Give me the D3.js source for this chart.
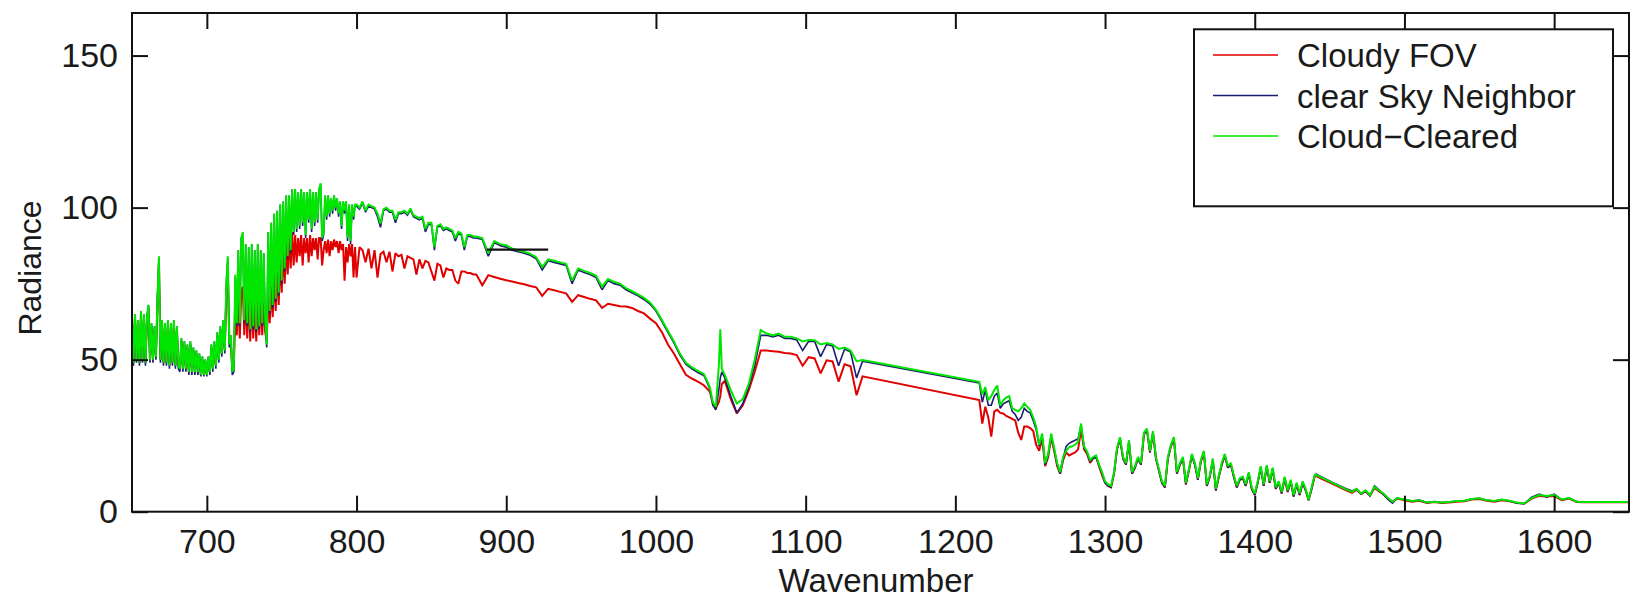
<!DOCTYPE html>
<html><head><meta charset="utf-8">
<script src="https://cdn.jsdelivr.net/npm/d3@7"></script>
<style>
html,body{margin:0;padding:0;background:#fff;}
svg{display:block;}
text{font-family:"Liberation Sans",Arial,Helvetica,sans-serif;fill:#1a1a1a;}
</style>
</head><body>
<svg id="chart" width="1631" height="600"></svg>
<script>
// ---------------- data ----------------
const wavenumber = [
 650,651,652,653,654,655,656,657,658,659,
 660,661,662,663,664,665,666,667,668,669,
 670,671,672,673,674,675,676,677,678,679,
 680,681,682,683,684,685,686,687,688,689,
 690,691,692,693,694,695,696,697,698,699,
 700,701,702,703,704,705,706,707,708,709,
 710,711,712,713,714,715,716,717,718,719,
 720,721,722,723,724,725,726,727,728,729,
 730,731,732,733,734,735,736,737,738,739,
 740,741,742,743,744,745,746,747,748,749,
 750,751,752,753,754,755,756,757,758,759,
 760,761,762,763,764,765,766,767,768,769,
 770,771,772,773,774,775,776,777,778,779,
 780,781,782,783,784,785,786,787,788,789,
 790,791,792,793,794,795,796,797,798,799,
 800,802,804,806,808,810,812,814,816,818,
 820,822,824,826,828,830,832,834,836,838,
 840,842,844,846,848,850,852,854,856,858,
 860,862,864,866,868,870,872,874,876,878,
 880,884,888,892,896,900,904,908,912,916,
 920,924,928,932,936,940,944,948,952,956,
 960,964,968,972,976,980,984,988,992,996,
 1000,1004,1008,1012,1016,1020,1024,1028,1032,1036,
 1038,1040,1042,1043,1044,1046,1050,1054,1058,1062,
 1066,1070,1074,1078,1082,1086,1090,1094,1098,1102,
 1106,1110,1114,1118,1122,1126,1130,1134,1138,1216,
 1218,1220,1222,1224,1226,1228,1230,1232,1234,1236,
 1238,1240,1242,1244,1246,1248,1250,1252,1254,1256,
 1258,1260,1262,1264,1266,1268,1270,1272,1274,1276,
 1278,1280,1282,1284,1286,1288,1290,1292,1294,1296,
 1298,1300,1302,1304,1306,1308,1310,1312,1314,1316,
 1318,1320,1322,1324,1326,1328,1330,1332,1334,1336,
 1338,1340,1342,1344,1346,1348,1350,1352,1354,1356,
 1358,1360,1362,1364,1366,1368,1370,1372,1374,1376,
 1378,1380,1382,1384,1386,1388,1390,1392,1394,1396,
 1398,1400,1402,1404,1406,1408,1410,1412,1414,1416,
 1418,1420,1422,1424,1426,1428,1430,1432,1434,1436,
 1438,1440,1441,1444,1452,1460,1465,1468,1471,1474,
 1477,1480,1483,1486,1489,1492,1495,1498,1500,1505,
 1510,1515,1520,1525,1530,1535,1540,1545,1550,1555,
 1560,1565,1570,1575,1580,1585,1590,1595,1600,1605,
 1610,1615,1620,1650
];

const cloudyFOV = [
 63,49,64,50,62,49,65,50,64,49,
 63,67,50,61,50,60,51,69,82,50,
 62,49,61,49,62,48,61,49,62,48,
 60,48,47,56,47,55,47,54,46,55,
 46,53,46,52,46,51,45,50,45,49,
 45,50,46,54,47,55,48,58,50,60,
 52,62,53,72,80,55,57,46,47,66,
 58,70,57,72,74,58,70,57,71,56,
 72,57,70,56,71,58,70,58,69,59,
 56,72,62,74,64,78,66,80,68,84,
 72,86,75,88,78,90,80,92,81,91,
 82,90,84,91,81,90,85,90,82,91,
 84,90,86,90,83,90,90,81,86,89,
 85,89.5,84,89,86,89.5,87,89,85,89,
 86,88,76,87,82,88,84,88,77,87,
 77,87,86,82,86.5,80,86,77,84.7,85.5,
 82,85.5,79,85,84,84.5,80,84,83.5,83,
 78,83,80,82.5,82,79,76,81.5,81,77,
 80,79.5,79.5,76,75,79,79,78.5,78.5,78,
 78,74.5,77.8,77.2,76.6,76.1,75.7,75.2,74.8,74.2,
 73.8,71,73.3,72.8,72.3,71.8,69,71.2,70.6,70,
 69.5,67,68.4,68,67.6,67.5,67,66,65.2,63.5,
 62,59,55,52,48.5,45,43.8,42.8,41.6,39.5,
 35.6,34,36,38,42,43,37,32.3,35,40,
 46,53,53,52.8,52.6,52.2,52,51.5,48,50.8,
 50.4,45.5,49.8,49.4,42.8,48.5,47.8,38.3,44.5,36.7,
 29,34.5,31,24.7,33,33.5,32.5,32.3,31.5,31,
 30.5,30,26,23.6,28,28,27.5,26.5,22,20,
 24,15,18,24.5,20,15,12.5,17,19.5,18.5,
 19,19.5,20.5,27,20.5,19,16,17.5,18,15,
 12,9.5,8.5,8,12.5,20.5,24,17.5,15.5,23,
 12.5,14.5,17.5,15.5,25.5,26.8,19.5,26,17.5,13.5,
 9.5,8,17.5,21.5,24,12.5,15.5,17.5,9,13.5,
 18.5,15.5,10.5,16.5,19.5,8.5,11.5,17,7,11.5,
 15.5,18.5,14.5,15.5,11.5,8,10.5,11,8.5,12.5,
 7.5,5.5,9.5,14.5,8.5,14.8,9.5,14,7.5,9.5,
 6,11,6.5,10,5,9,5.5,9.5,7,3.8,
 7.5,11.5,11.8,11,9.2,7.3,6.2,7.2,5.8,6.7,
 5.3,7.8,6.7,5.8,4.3,3.2,4.3,4,3.8,3.3,
 3.6,2.9,3.2,2.9,3,3.3,3.4,4,4.2,3.6,
 3.3,3.8,3.4,2.9,2.6,4.3,5.2,5,5.2,3.8,
 4.3,3.2,3.1,3.1
];

const clearSkyNeighbor = [
 63,48,65,49,63,48,66,49,65,48,
 64,68,49,62,49,61,50,70,83,49,
 63,48,62,48,63,47,62,48,63,47,
 61,47,46,57,46,56,46,55,45,56,
 45,54,45,53,45,52,44.5,51,44.5,50,
 44.5,51,45,55,46,56,47,59,49,61,
 51,63,52,75,83,54,58,45,46,77,
 61,86,61,90,91,62,88,61,87,59,
 88,60,86,59,88,60,86,61,85,62,
 54,92,65,95,67,98,69,99,71,101,
 75,102,79,104,83,104,85,106,91,106,
 92,105,93,106,94,105,90,105,95,106,
 92,105,94,105,95,106,107.5,89,91,104,
 96,104,97,103,98,104,99,103,97,102,
 93,102,98,102,89,101,88,101,96,101,
 100.5,99.5,101.5,98.5,100.5,100,99.5,97,93.5,99,
 99.5,98.5,98.5,95,98,98,98.5,97.5,99.2,97,
 96.5,96,96.5,92,94.5,94.5,86,93.5,94,92.5,
 93,92.5,92,89,91.5,91,86,90.5,90.5,90,
 90,89.5,84,88.5,87.5,87,86,85.5,85,84.3,
 83.2,79.5,82.5,82,81.5,81,75,79.5,78.7,78,
 77,73,76,75,74.5,73,72,71,69.8,68.3,
 66,62.5,59,55.5,51.5,48.5,47,45.8,44.8,40.5,
 35,33.5,40,44,46,44,38,32.5,35.5,41,
 48,58,58,57.5,58,57,57,56.5,53,56,
 56,51,55,54.5,48,53.5,52.5,44,49.5,42.3,
 36,40,35,35,38,39,34,35.5,36,36.5,
 33,32,30,31,34,33,32.5,30,27,21.5,
 25,15.5,18.5,25,20.5,15.5,12.5,17.5,21.5,22.5,
 23,23.5,24,28.5,21,19.5,16.5,17.5,18,15,
 12.5,9.5,8.5,8,12.5,20.5,24,17.5,15.5,23,
 12.5,14.5,17.5,15.5,25.5,27,19.5,26,17.5,13.5,
 9.5,8,17.5,21.5,24,12.5,15.5,17.5,9,13.5,
 18.5,15.5,10.5,16.5,19.5,8.5,11.5,17,7,11.5,
 15.5,18.5,14.5,15.5,11.5,8,10.5,11,8.5,12.5,
 7.5,5.5,9.5,14.5,8.5,14.8,9.5,14,7.5,9.5,
 6,11,6.5,10,5,9,5.5,9.5,7,3.8,
 7.5,11.8,12.4,11.6,9.6,7.8,6.8,7.5,5.8,6.8,
 5.2,8.5,7.2,5.6,4,2.8,4.5,4.2,4,3.5,
 3.8,3,3.3,3,3.2,3.5,3.6,4.2,4.4,3.8,
 3.5,4,3.6,2.8,2.6,4.8,5.8,4.8,5.8,4,
 4.5,3.3,3.2,3.2
];

const cloudCleared = [
 64,49,65,50,63,49,66,50,65,49,
 64,68,50,62,50,61,51,70,84,50,
 63,49,62,49,63,48,62,49,63,48,
 61,48,47,57,47,56,47,55,46,56,
 46,54,46,53,46,52,45,51,45,50,
 45,51,46,55,47,56,48,59,50,61,
 52,63,53,75,84,55,58,46,47,78,
 62,86,62,90,92,63,88,62,87,60,
 88,61,86,60,88,61,86,62,85,63,
 55,92,66,95,68,98,70,99,72,101,
 76,102,80,104,84,104,86,106,92,106,
 93,105,94,106,95,105,91,105,96,106,
 93,105,95,105,96,106,108,90,92,104,
 97,104,98,103,99,104,100,103,98,102,
 94,102,99,102,90,101,89,101,97,101,
 101,100,102,99,101,100.5,100,98,94.8,99.5,
 100,99,99,96,98.5,98.5,99,98,99.7,97.5,
 97,96.5,97,93,95,95,87,94,94.5,93,
 93.5,93,92.5,90,92,91.5,87,91,91,90.5,
 90.5,90,85,89,88,87.6,86.5,86,85.5,84.8,
 83.7,80.5,83,82.5,82,81.5,76,80,79.2,78.5,
 77.6,74,76.5,75.6,75,73.5,72.5,71.5,70.3,68.8,
 66.4,63,59.5,56,52,49,47.5,46.3,45.3,41,
 36,34.5,48,60,47,45,40,35.6,37,42,
 50,59.7,58.6,58,58.6,57.5,57.5,57,56,56.5,
 56.4,55,55.5,55,53.5,54,53,49.5,49.9,42.7,
 38.5,41,36.7,38,40,41.5,35,36.7,37.5,38,
 34,33.5,33,34,35.6,34.5,33.5,31,28,22,
 25.7,16,19,25.7,21,16,13,18,20,21.2,
 21.5,22,23,29,21.4,19.8,17,18,18.5,15.5,
 13,10,9,8.5,13,21,24.5,18,16,23.5,
 13,15,18,16,26,27.3,20,26.5,18,14,
 10,8.5,18,22,24.5,13,16,18,9.5,14,
 19,16,11,17,20,9,12,17.5,7.5,12,
 16,19,15,16,12,8.5,11,11.5,9,13,
 8,6,10,15,9,15.3,10,14.5,8,10,
 6.5,11.5,7,10.5,5.5,9.5,6,10,7.5,4,
 8,12,12.1,11.4,9.5,7.6,6.5,7.5,6,7,
 5.5,8.2,7,6,4.5,3.3,4.5,4.2,4,3.5,
 3.8,3,3.3,3,3.2,3.5,3.6,4.2,4.4,3.8,
 3.5,4,3.6,3,2.7,4.5,5.5,5.2,5.5,4,
 4.5,3.3,3.2,3.2
];

// short dark horizontal segment visible near 890-930
const strayWavenumber = [887, 928];
const strayRadiance = [86.2, 86.2];

const xTickValues = [700, 800, 900, 1000, 1100, 1200, 1300, 1400, 1500, 1600];
const yTickValues = [0, 50, 100, 150];
const seriesNames = ["Cloudy FOV", "clear Sky Neighbor", "Cloud\u2212Cleared"];
const seriesColors = ["#e00000", "#1c1c72", "#00e600"];

// ---------------- drawing ----------------
const svg = d3.select("#chart");
svg.append("rect").attr("width", 1631).attr("height", 600).attr("fill", "#fff");

const plot = {left: 132, right: 1629, top: 13, bottom: 511.7};
const x = d3.scaleLinear().domain([650, 1650]).range([plot.left, plot.right]);
const y = d3.scaleLinear().domain([0, 164]).range([plot.bottom, plot.top]);

svg.append("clipPath").attr("id", "clip").append("rect")
  .attr("x", plot.left).attr("y", plot.top)
  .attr("width", plot.right - plot.left).attr("height", plot.bottom - plot.top);

const seriesValues = [cloudyFOV, clearSkyNeighbor, cloudCleared];
const widths = [2, 1.6, 2];
const line = d3.line()
  .defined(d => d[1] != null)
  .x(d => x(d[0])).y(d => y(d[1]));

const g = svg.append("g").attr("clip-path", "url(#clip)");
seriesValues.forEach((vals, i) => {
  const pts = wavenumber.map((w, k) => [w, vals[k]]);
  g.append("path").datum(pts)
    .attr("d", line)
    .attr("fill", "none")
    .attr("stroke", seriesColors[i])
    .attr("stroke-width", widths[i])
    .attr("stroke-linejoin", "miter")
    .attr("stroke-miterlimit", 2);
});
g.append("path")
  .datum(strayWavenumber.map((w, k) => [w, strayRadiance[k]]))
  .attr("d", line).attr("fill", "none").attr("stroke", "#111").attr("stroke-width", 2.4);

// axes (ticks pointing inward on all four sides)
const tickLen = 16;
const axB = svg.append("g").attr("transform", `translate(0,${plot.bottom})`)
  .call(d3.axisBottom(x).tickValues(xTickValues).tickSize(-tickLen).tickPadding(17).tickFormat(d3.format("d")));
const axT = svg.append("g").attr("transform", `translate(0,${plot.top})`)
  .call(d3.axisTop(x).tickValues(xTickValues).tickSize(-tickLen).tickFormat(""));
const axL = svg.append("g").attr("transform", `translate(${plot.left},0)`)
  .call(d3.axisLeft(y).tickValues(yTickValues).tickSize(-tickLen).tickPadding(14).tickFormat(d3.format("d")));
const axR = svg.append("g").attr("transform", `translate(${plot.right},0)`)
  .call(d3.axisRight(y).tickValues(yTickValues).tickSize(-tickLen).tickFormat(""));

[axB, axT, axL, axR].forEach(a => {
  a.select(".domain").remove();
  a.selectAll(".tick line").attr("stroke", "#111").attr("stroke-width", 2);
  a.selectAll(".tick text").attr("fill", "#1a1a1a")
    .style("font-family", '"Liberation Sans", Arial, sans-serif').style("font-size", "34px");
});

svg.append("rect")
  .attr("x", plot.left).attr("y", plot.top)
  .attr("width", plot.right - plot.left).attr("height", plot.bottom - plot.top)
  .attr("fill", "none").attr("stroke", "#111").attr("stroke-width", 2);

// axis titles
svg.append("text").attr("x", 876).attr("y", 592).attr("text-anchor", "middle")
  .style("font-size", "33px").text("Wavenumber");
svg.append("text").attr("transform", "translate(41,268) rotate(-90)").attr("text-anchor", "middle")
  .style("font-size", "32px").text("Radiance");

// legend
const lg = svg.append("g");
lg.append("rect").attr("x", 1194).attr("y", 29.3).attr("width", 419).attr("height", 177)
  .attr("fill", "#fff").attr("stroke", "#111").attr("stroke-width", 2);
seriesNames.forEach((name, i) => {
  const base = 67 + i * 40.5;
  lg.append("line").attr("x1", 1213).attr("x2", 1278)
    .attr("y1", base - 12).attr("y2", base - 12)
    .attr("stroke", seriesColors[i]).attr("stroke-width", 1.5);
  lg.append("text").attr("x", 1297).attr("y", base)
    .style("font-size", "33px").text(name);
});
</script>
</body></html>
